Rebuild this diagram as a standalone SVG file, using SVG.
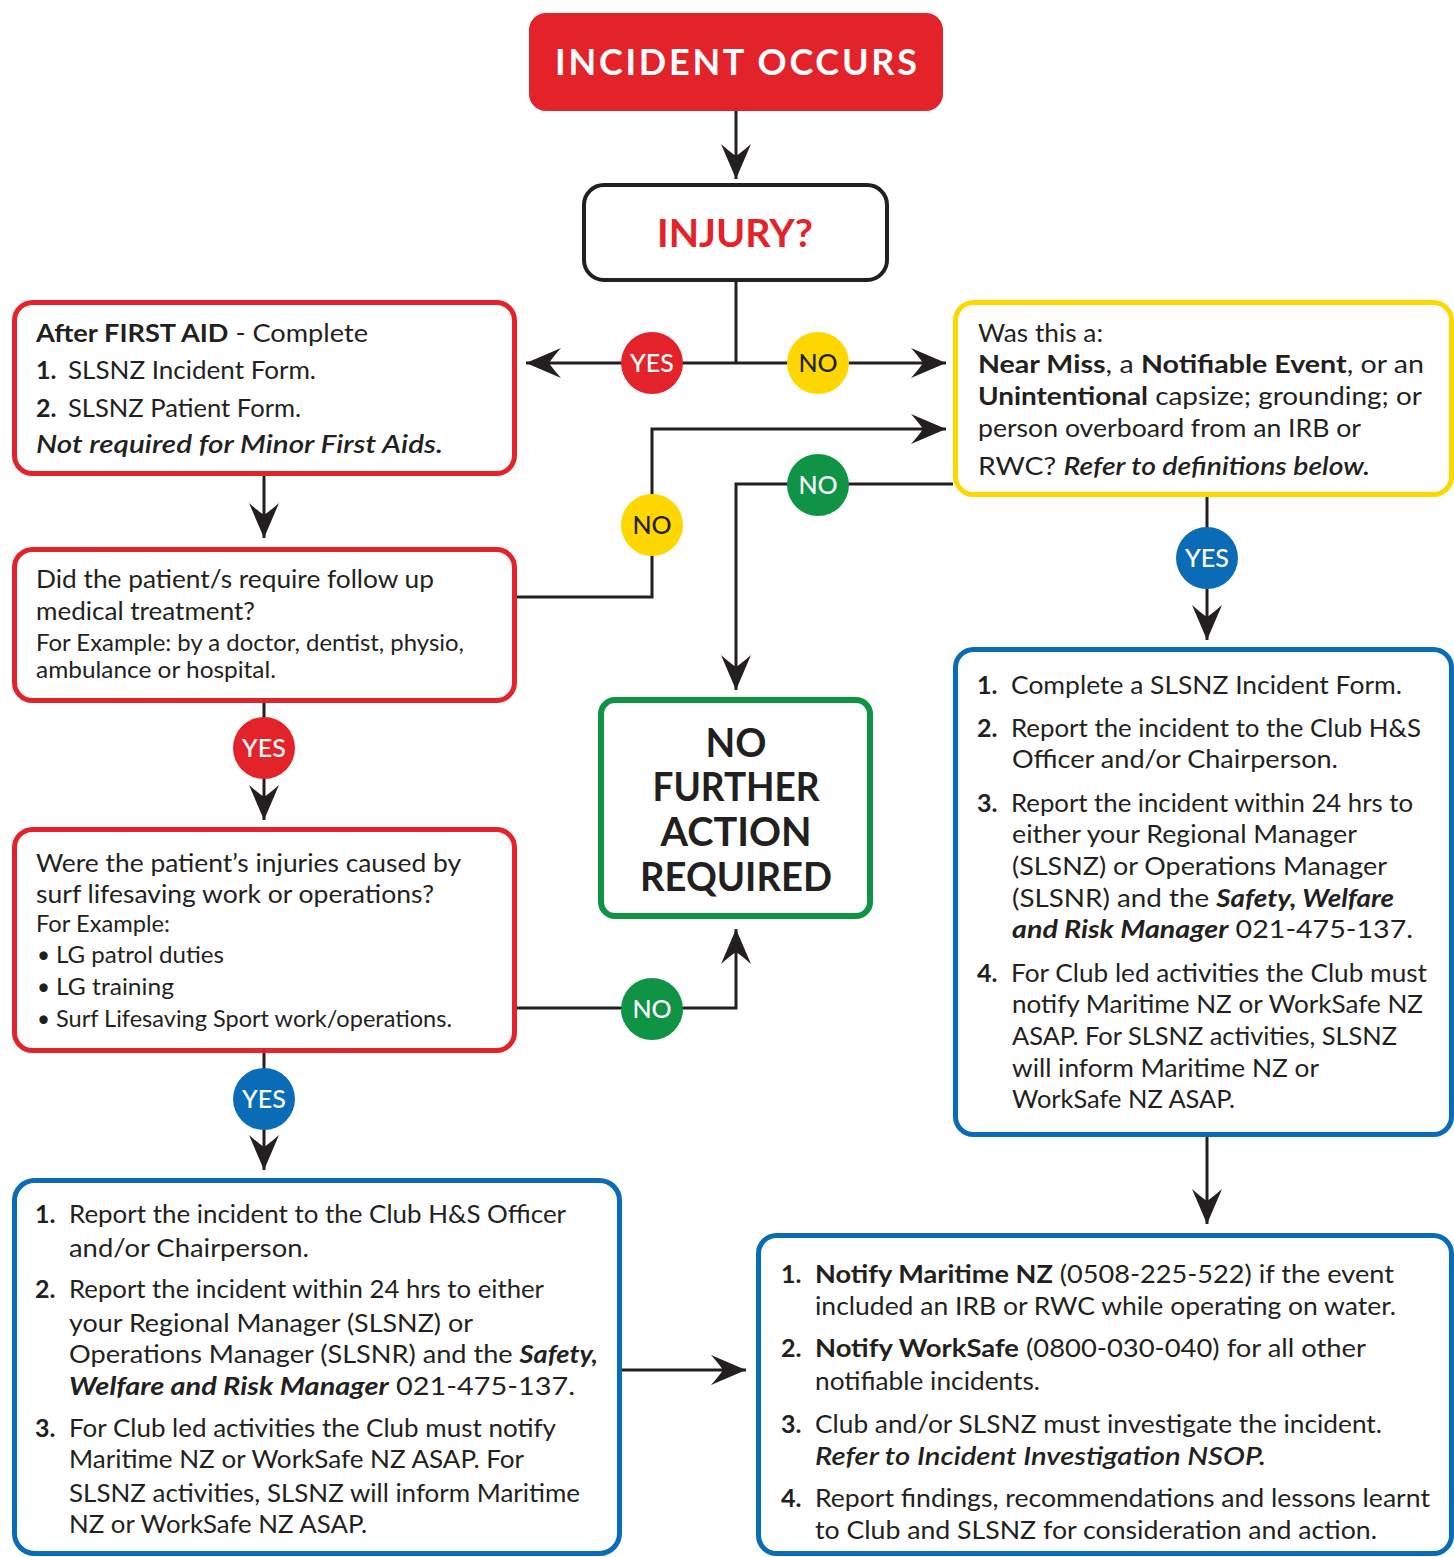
<svg xmlns="http://www.w3.org/2000/svg" width="1454" height="1557" viewBox="0 0 1454 1557">
<style>
text{font-family:Lato,"Liberation Sans",sans-serif;fill:#231f20}
.b{font-size:25px}
.s{font-size:22.5px}
.n{font-weight:700}
.bo{font-weight:700}
.it{font-style:italic;font-weight:600}
.bi{font-style:italic;font-weight:700}
.head{font-weight:700;text-anchor:middle}
.lbl{font-size:25px;font-weight:500;text-anchor:middle}
.w{fill:#fff}
.rbox{fill:#fff;stroke:#e42229;stroke-width:5}
.ybox{fill:#fff;stroke:#ffd700;stroke-width:5}
.bbox{fill:#fff;stroke:#0a6bb6;stroke-width:5}
.con{fill:none;stroke:#231f20;stroke-width:3}
</style>
<defs>
<marker id="ah" viewBox="-36 -16 37 32" markerWidth="37" markerHeight="32" refX="0" refY="0" orient="auto" markerUnits="userSpaceOnUse">
<path d="M0,0 L-35,-15 Q-27,-6 -23,0 Q-27,6 -35,15 Z" fill="#231f20"/>
</marker>
</defs>

<g id="connectors">
<path class="con" d="M736,111 V179" marker-end="url(#ah)"/>
<path class="con" d="M736,282 V363"/>
<path class="con" d="M736,363 H526" marker-end="url(#ah)"/>
<path class="con" d="M736,363 H946" marker-end="url(#ah)"/>
<path class="con" d="M264,476 V538" marker-end="url(#ah)"/>
<path class="con" d="M517,597 H652 V429 H946" marker-end="url(#ah)"/>
<path class="con" d="M953,484 H736 V690" marker-end="url(#ah)"/>
<path class="con" d="M1207,497 V640" marker-end="url(#ah)"/>
<path class="con" d="M264,703 V820" marker-end="url(#ah)"/>
<path class="con" d="M517,1008 H736 V929" marker-end="url(#ah)"/>
<path class="con" d="M264,1053 V1170" marker-end="url(#ah)"/>
<path class="con" d="M1207,1137 V1224" marker-end="url(#ah)"/>
<path class="con" d="M622,1370 H746" marker-end="url(#ah)"/>
</g>

<g id="labels">
<g id="lbl-yes-injury"><circle cx="652" cy="363" r="31" fill="#e42229"/><text class="lbl w" x="652" y="372">YES</text></g>
<g id="lbl-no-injury"><circle cx="818" cy="363" r="31" fill="#ffd700"/><text class="lbl" x="818" y="372">NO</text></g>
<g id="lbl-no-medical"><circle cx="652" cy="525" r="31" fill="#ffd700"/><text class="lbl" x="652" y="534">NO</text></g>
<g id="lbl-no-event"><circle cx="818" cy="485" r="31" fill="#0f9445"/><text class="lbl w" x="818" y="494">NO</text></g>
<g id="lbl-yes-event"><circle cx="1207" cy="558" r="31" fill="#0a6bb6"/><text class="lbl w" x="1207" y="567">YES</text></g>
<g id="lbl-yes-medical"><circle cx="264" cy="748" r="31" fill="#e42229"/><text class="lbl w" x="264" y="757">YES</text></g>
<g id="lbl-no-work"><circle cx="652" cy="1009" r="31" fill="#0f9445"/><text class="lbl w" x="652" y="1018">NO</text></g>
<g id="lbl-yes-work"><circle cx="264" cy="1099" r="31" fill="#0a6bb6"/><text class="lbl w" x="264" y="1108">YES</text></g>
</g>

<g id="incident-occurs">
<rect x="529" y="13" width="414" height="98" rx="17" fill="#e42229"/>
<text class="head w" x="736" y="75" font-size="36" textLength="362" lengthAdjust="spacing">INCIDENT OCCURS</text>
</g>

<g id="injury">
<rect x="584" y="185" width="303" height="95" rx="20" fill="#fff" stroke="#231f20" stroke-width="4"/>
<text class="head" x="735" y="247" font-size="38" style="fill:#e42229" textLength="156" lengthAdjust="spacingAndGlyphs">INJURY?</text>
</g>

<g id="first-aid">
<rect class="rbox" x="14.5" y="302.5" width="500" height="171" rx="18"/>
<text class="b" x="36" y="342" textLength="332" lengthAdjust="spacingAndGlyphs"><tspan class="bo">After FIRST AID</tspan> - Complete</text>
<text class="b n" x="36" y="379">1.</text>
<text class="b" x="68" y="379" textLength="248" lengthAdjust="spacingAndGlyphs">SLSNZ Incident Form.</text>
<text class="b n" x="36" y="417">2.</text>
<text class="b" x="68" y="417" textLength="233" lengthAdjust="spacingAndGlyphs">SLSNZ Patient Form.</text>
<text class="b it" x="36" y="453" textLength="407" lengthAdjust="spacingAndGlyphs">Not required for Minor First Aids.</text>
</g>

<g id="follow-up">
<rect class="rbox" x="14.5" y="549.5" width="500" height="151" rx="18"/>
<text class="b" x="36" y="588" textLength="398" lengthAdjust="spacingAndGlyphs">Did the patient/s require follow up</text>
<text class="b" x="36" y="620" textLength="219" lengthAdjust="spacingAndGlyphs">medical treatment?</text>
<text class="s" x="36" y="651" textLength="428" lengthAdjust="spacingAndGlyphs">For Example: by a doctor, dentist, physio,</text>
<text class="s" x="36" y="678" textLength="240" lengthAdjust="spacingAndGlyphs">ambulance or hospital.</text>
</g>

<g id="work-related">
<rect class="rbox" x="14.5" y="829.5" width="500" height="221" rx="18"/>
<text class="b" x="36" y="872" textLength="425" lengthAdjust="spacingAndGlyphs">Were the patient’s injuries caused by</text>
<text class="b" x="36" y="903" textLength="398" lengthAdjust="spacingAndGlyphs">surf lifesaving work or operations?</text>
<text class="s" x="36" y="932" textLength="134" lengthAdjust="spacingAndGlyphs">For Example:</text>
<text class="s" x="37" y="963">•</text>
<text class="s" x="56" y="963" textLength="168" lengthAdjust="spacingAndGlyphs">LG patrol duties</text>
<text class="s" x="37" y="995">•</text>
<text class="s" x="56" y="995" textLength="118" lengthAdjust="spacingAndGlyphs">LG training</text>
<text class="s" x="37" y="1027">•</text>
<text class="s" x="56" y="1027" textLength="396" lengthAdjust="spacingAndGlyphs">Surf Lifesaving Sport work/operations.</text>
</g>

<g id="no-further-action">
<rect x="601" y="700" width="269" height="216" rx="14" fill="#fff" stroke="#0f9445" stroke-width="6"/>
<text class="head" x="736" y="757" font-size="40" textLength="61" lengthAdjust="spacingAndGlyphs">NO</text>
<text class="head" x="736" y="801" font-size="40" textLength="167" lengthAdjust="spacingAndGlyphs">FURTHER</text>
<text class="head" x="736" y="846" font-size="40" textLength="151" lengthAdjust="spacingAndGlyphs">ACTION</text>
<text class="head" x="736" y="891" font-size="40" textLength="192" lengthAdjust="spacingAndGlyphs">REQUIRED</text>
</g>

<g id="event-type">
<rect class="ybox" x="955.5" y="302.5" width="496" height="192" rx="18"/>
<text class="b" x="978" y="342" textLength="125" lengthAdjust="spacingAndGlyphs">Was this a:</text>
<text class="b" x="978" y="373" textLength="446" lengthAdjust="spacingAndGlyphs"><tspan class="bo">Near Miss</tspan>, a <tspan class="bo">Notifiable Event</tspan>, or an</text>
<text class="b" x="978" y="405" textLength="444" lengthAdjust="spacingAndGlyphs"><tspan class="bo">Unintentional</tspan> capsize; grounding; or</text>
<text class="b" x="978" y="437" textLength="383" lengthAdjust="spacingAndGlyphs">person overboard from an IRB or</text>
<text class="b" x="978" y="475" textLength="392" lengthAdjust="spacingAndGlyphs">RWC? <tspan class="it">Refer to definitions below.</tspan></text>
</g>

<g id="event-actions">
<rect class="bbox" x="955.5" y="649.5" width="496" height="485" rx="18"/>
<text class="b n" x="977" y="694">1.</text>
<text class="b" x="1011" y="694" textLength="391" lengthAdjust="spacingAndGlyphs">Complete a SLSNZ Incident Form.</text>
<text class="b n" x="977" y="737">2.</text>
<text class="b" x="1011" y="737" textLength="410" lengthAdjust="spacingAndGlyphs">Report the incident to the Club H&amp;S</text>
<text class="b" x="1012" y="768" textLength="326" lengthAdjust="spacingAndGlyphs">Officer and/or Chairperson.</text>
<text class="b n" x="977" y="812">3.</text>
<text class="b" x="1011" y="812" textLength="402" lengthAdjust="spacingAndGlyphs">Report the incident within 24 hrs to</text>
<text class="b" x="1012" y="843" textLength="345" lengthAdjust="spacingAndGlyphs">either your Regional Manager</text>
<text class="b" x="1012" y="875" textLength="375" lengthAdjust="spacingAndGlyphs">(SLSNZ) or Operations Manager</text>
<text class="b" x="1012" y="907" textLength="382" lengthAdjust="spacingAndGlyphs">(SLSNR) and the <tspan class="bi">Safety, Welfare</tspan></text>
<text class="b" x="1012" y="938" textLength="401" lengthAdjust="spacingAndGlyphs"><tspan class="bi">and Risk Manager</tspan> 021-475-137.</text>
<text class="b n" x="977" y="982">4.</text>
<text class="b" x="1011" y="982" textLength="416" lengthAdjust="spacingAndGlyphs">For Club led activities the Club must</text>
<text class="b" x="1012" y="1013" textLength="411" lengthAdjust="spacingAndGlyphs">notify Maritime NZ or WorkSafe NZ</text>
<text class="b" x="1012" y="1045" textLength="385" lengthAdjust="spacingAndGlyphs">ASAP. For SLSNZ activities, SLSNZ</text>
<text class="b" x="1012" y="1077" textLength="307" lengthAdjust="spacingAndGlyphs">will inform Maritime NZ or</text>
<text class="b" x="1012" y="1108" textLength="223" lengthAdjust="spacingAndGlyphs">WorkSafe NZ ASAP.</text>
</g>

<g id="work-actions">
<rect class="bbox" x="14.5" y="1180.5" width="605" height="373" rx="20"/>
<text class="b n" x="35" y="1223">1.</text>
<text class="b" x="69" y="1223" textLength="497" lengthAdjust="spacingAndGlyphs">Report the incident to the Club H&amp;S Officer</text>
<text class="b" x="69" y="1257" textLength="240" lengthAdjust="spacingAndGlyphs">and/or Chairperson.</text>
<text class="b n" x="35" y="1298">2.</text>
<text class="b" x="69" y="1298" textLength="475" lengthAdjust="spacingAndGlyphs">Report the incident within 24 hrs to either</text>
<text class="b" x="69" y="1332" textLength="404" lengthAdjust="spacingAndGlyphs">your Regional Manager (SLSNZ) or</text>
<text class="b" x="69" y="1363" textLength="529" lengthAdjust="spacingAndGlyphs">Operations Manager (SLSNR) and the <tspan class="bi">Safety,</tspan></text>
<text class="b" x="69" y="1395" textLength="506" lengthAdjust="spacingAndGlyphs"><tspan class="bi">Welfare and Risk Manager</tspan> 021-475-137.</text>
<text class="b n" x="35" y="1437">3.</text>
<text class="b" x="69" y="1437" textLength="487" lengthAdjust="spacingAndGlyphs">For Club led activities the Club must notify</text>
<text class="b" x="69" y="1468" textLength="455" lengthAdjust="spacingAndGlyphs">Maritime NZ or WorkSafe NZ ASAP. For</text>
<text class="b" x="69" y="1502" textLength="511" lengthAdjust="spacingAndGlyphs">SLSNZ activities, SLSNZ will inform Maritime</text>
<text class="b" x="69" y="1533" textLength="298" lengthAdjust="spacingAndGlyphs">NZ or WorkSafe NZ ASAP.</text>
</g>

<g id="notify">
<rect class="bbox" x="758.5" y="1235.5" width="693" height="318" rx="18"/>
<text class="b n" x="781" y="1283">1.</text>
<text class="b" x="815" y="1283" textLength="579" lengthAdjust="spacingAndGlyphs"><tspan class="bo">Notify Maritime NZ</tspan> (0508-225-522) if the event</text>
<text class="b" x="815" y="1315" textLength="581" lengthAdjust="spacingAndGlyphs">included an IRB or RWC while operating on water.</text>
<text class="b n" x="781" y="1357">2.</text>
<text class="b" x="815" y="1357" textLength="551" lengthAdjust="spacingAndGlyphs"><tspan class="bo">Notify WorkSafe</tspan> (0800-030-040) for all other</text>
<text class="b" x="815" y="1390" textLength="225" lengthAdjust="spacingAndGlyphs">notifiable incidents.</text>
<text class="b n" x="781" y="1433">3.</text>
<text class="b" x="815" y="1433" textLength="567" lengthAdjust="spacingAndGlyphs">Club and/or SLSNZ must investigate the incident.</text>
<text class="b it" x="815" y="1465" textLength="451" lengthAdjust="spacingAndGlyphs">Refer to Incident Investigation NSOP.</text>
<text class="b n" x="781" y="1507">4.</text>
<text class="b" x="815" y="1507" textLength="615" lengthAdjust="spacingAndGlyphs">Report findings, recommendations and lessons learnt</text>
<text class="b" x="815" y="1539" textLength="562" lengthAdjust="spacingAndGlyphs">to Club and SLSNZ for consideration and action.</text>
</g>
</svg>
